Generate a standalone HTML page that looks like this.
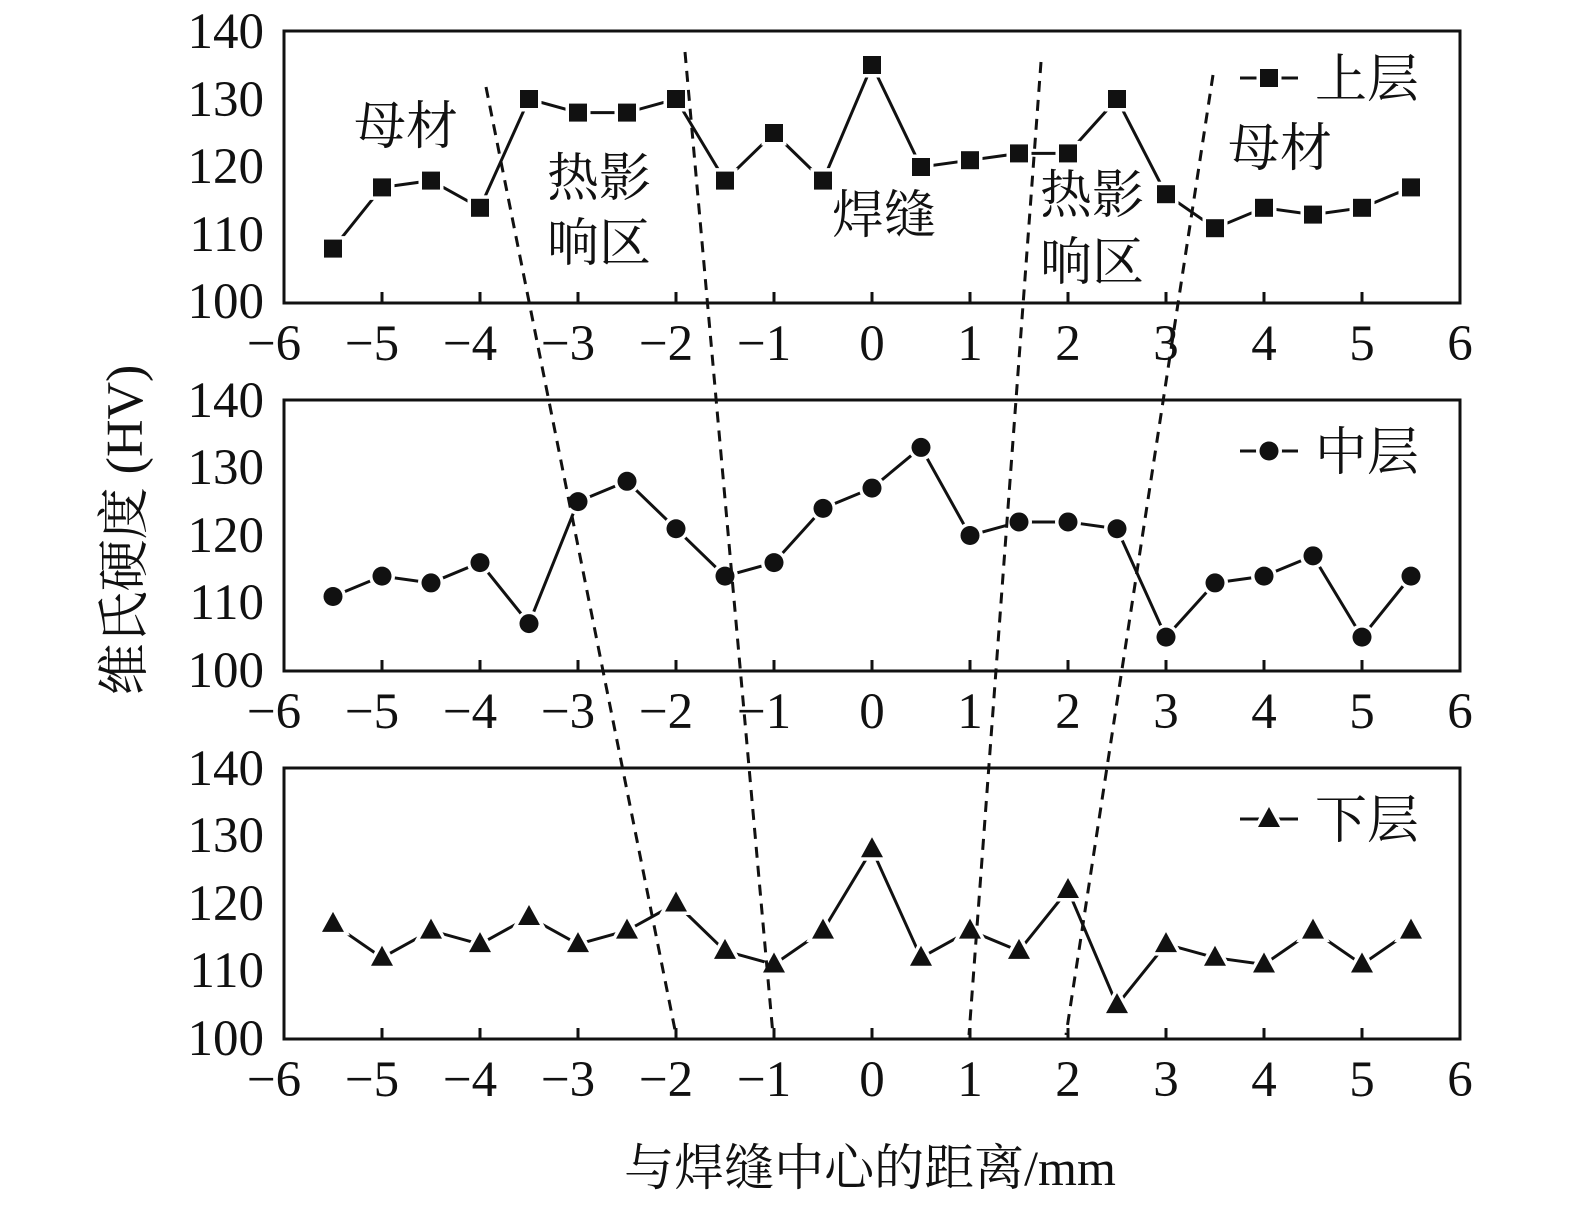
<!DOCTYPE html>
<html><head><meta charset="utf-8"><style>
body{margin:0;background:#fff}
svg{display:block}
text{font-family:"Liberation Serif","Noto Serif CJK SC",serif;fill:#111}
.t{font-size:51px;text-anchor:middle}
.y{font-size:51px;text-anchor:end}
.c{font-size:52px}
</style></head><body>
<svg id="s" width="1575" height="1208" viewBox="0 0 1575 1208" xmlns="http://www.w3.org/2000/svg">
<g id="g"></g>
<g id="txt">
<text class="y" x="264" y="48">140</text><text class="y" x="264" y="116">130</text><text class="y" x="264" y="183">120</text><text class="y" x="264" y="251">110</text><text class="y" x="264" y="318">100</text>
<text class="y" x="264" y="417">140</text><text class="y" x="264" y="484">130</text><text class="y" x="264" y="552">120</text><text class="y" x="264" y="619">110</text><text class="y" x="264" y="687">100</text>
<text class="y" x="264" y="785">140</text><text class="y" x="264" y="852">130</text><text class="y" x="264" y="920">120</text><text class="y" x="264" y="987">110</text><text class="y" x="264" y="1055">100</text>
<text class="c" x="354" y="144">母材</text>
<text class="c" x="547" y="196">热影</text><text class="c" x="547" y="261">响区</text>
<text class="c" x="832" y="233">焊缝</text>
<text class="c" x="1040" y="213">热影</text><text class="c" x="1040" y="280">响区</text>
<text class="c" x="1228" y="166">母材</text>
<text class="c" x="1315" y="97">上层</text>
<text class="c" x="1315" y="470">中层</text>
<text class="c" x="1315" y="838">下层</text>
<text class="c" transform="translate(142,530) rotate(-90)" text-anchor="middle">维氏硬度 (HV)</text>
<text class="c" style="font-size:50px" x="870" y="1185" text-anchor="middle">与焊缝中心的距离/mm</text>
</g>
</svg>
<script>
var g=document.getElementById('g'),ns='http://www.w3.org/2000/svg';
function el(n,a){var e=document.createElementNS(ns,n);for(var k in a)e.setAttribute(k,a[k]);g.appendChild(e);return e}
var L=284,R=1460,ux=(R-L)/12;function X(v){return L+(v+6)*ux}
var tops=[31,400,768],bots=[303,671,1039];
var data=[[108,117,118,114,130,128,128,130,118,125,118,135,120,121,122,122,130,116,111,114,113,114,117],
[111,114,113,116,107,125,128,121,114,116,124,127,133,120,122,122,121,105,113,114,117,105,114],
[117,112,116,114,118,114,116,120,113,111,116,128,112,116,113,122,105,114,112,111,116,111,116]];
var legY=[78,451,819];
for(var p=0;p<3;p++){
 var T=tops[p],B=bots[p];function Y(v){return B-(v-100)*(B-T)/40}
 el('rect',{x:L,y:T,width:R-L,height:B-T,fill:'none',stroke:'#111','stroke-width':3});
 for(var i=-6;i<=6;i++){var x=X(i);el('line',{x1:x,x2:x,y1:B,y2:B-11,stroke:'#111','stroke-width':3});
  var t=document.createElementNS(ns,'text');t.setAttribute('class','t');t.setAttribute('x',x+(i<0?-10:0));t.setAttribute('y',B+57);t.textContent=(i<0?'\u2212':'')+Math.abs(i);document.getElementById('s').appendChild(t);}
 var pts=data[p].map(function(v,i){return [X(-5.5+i*0.5),Y(v)]});
 el('polyline',{points:pts.map(function(q){return q.join(',')}).join(' '),fill:'none',stroke:'#111','stroke-width':3});
 function mk(x,y){
  if(p==0)el('rect',{x:x-9,y:y-9,width:18,height:18,fill:'#111',stroke:'#fff','stroke-width':7,'paint-order':'stroke'});
  else if(p==1)el('circle',{cx:x,cy:y,r:9.5,fill:'#111',stroke:'#fff','stroke-width':7,'paint-order':'stroke'});
  else el('polygon',{points:(x)+','+(y-12)+' '+(x-11)+','+(y+8)+' '+(x+11)+','+(y+8),fill:'#111',stroke:'#fff','stroke-width':7,'paint-order':'stroke'});
 }
 pts.forEach(function(q){mk(q[0],q[1])});
 var ly=legY[p];el('line',{x1:1240,x2:1298,y1:ly,y2:ly,stroke:'#111','stroke-width':3});mk(1269,ly);
}
[[486,87,676,1035],[685,52,773,1035],[1041,62,969,1035],[1213,75,1066,1035]].forEach(function(d){
 el('line',{x1:d[0],y1:d[1],x2:d[2],y2:d[3],stroke:'#111','stroke-width':3,'stroke-dasharray':'11 8'});});
</script>
</body></html>
